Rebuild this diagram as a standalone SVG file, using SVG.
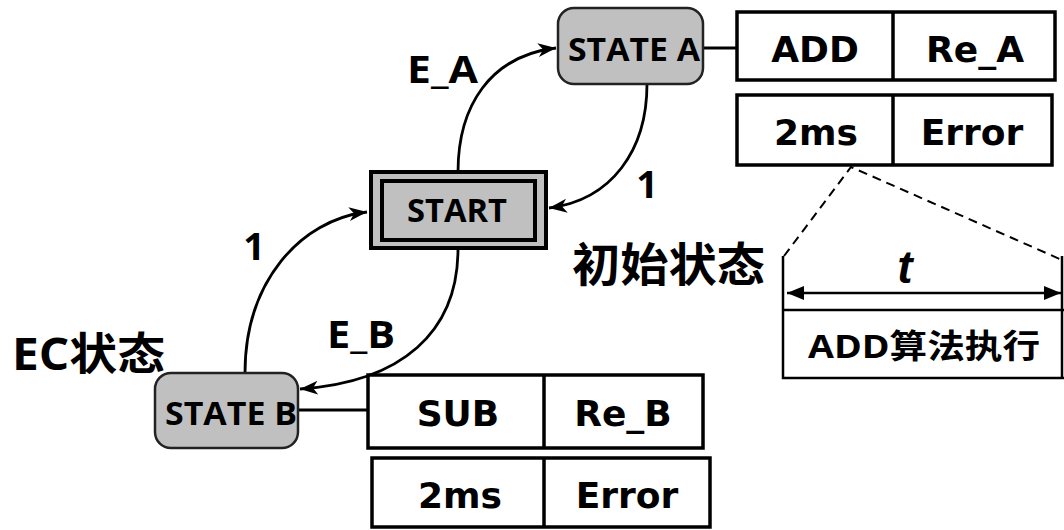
<svg xmlns="http://www.w3.org/2000/svg" width="1064" height="530" viewBox="0 0 1064 530">
  <defs>
    <marker id="arrow" markerUnits="userSpaceOnUse" markerWidth="20" markerHeight="16" refX="18" refY="8" orient="auto">
      <path d="M0,1 L18,8 L0,15 L5,8 Z" fill="#000"/>
    </marker>
    <marker id="dimEnd" markerUnits="userSpaceOnUse" markerWidth="18" markerHeight="14" refX="17" refY="7" orient="auto">
      <path d="M0,0 L17,7 L0,14 Z" fill="#000"/>
    </marker>
    <marker id="dimStart" markerUnits="userSpaceOnUse" markerWidth="18" markerHeight="14" refX="0" refY="7" orient="auto">
      <path d="M17,0 L0,7 L17,14 Z" fill="#000"/>
    </marker>
  </defs>
  <style>
    .state { fill: #c0c0c0; stroke: #222; stroke-width: 2.5; }
    .cell { fill: #fff; stroke: #000; stroke-width: 3.5; }
    .div { stroke: #000; stroke-width: 3.5; }
    .lbl { font-family: "Open Sans", "Liberation Sans", sans-serif; font-weight: bold; fill: #000; }
    .tbl { font-family: "DejaVu Sans", "Liberation Sans", sans-serif; font-weight: bold; font-size: 36px; fill: #000; text-anchor: middle; }
    .cjk { font-family: "Open Sans", "Noto Sans CJK SC", sans-serif; font-weight: bold; fill: #000; }
    .edge { fill: none; stroke: #000; stroke-width: 2.8; }
    .dash { fill: none; stroke: #000; stroke-width: 2; stroke-dasharray: 9 6; }
  </style>
  <rect width="1064" height="530" fill="#fff"/>

  <!-- transitions -->
  <g id="connectors">
    <path class="edge" d="M458,172 C458,106 490,56 556,48" marker-end="url(#arrow)"/>
    <path class="edge" d="M647,84 C647,150 612,200 549,208" marker-end="url(#arrow)"/>
    <path class="edge" d="M245,373 C245,282 300,220 367,212" marker-end="url(#arrow)"/>
    <path class="edge" d="M458,249 C458,332 402,382 300,389" marker-end="url(#arrow)"/>
    <line class="edge" x1="702" y1="48" x2="737" y2="48"/>
    <line class="edge" x1="298" y1="410" x2="370" y2="410"/>
    <path class="dash" d="M784,256 L851,167 L1062,260"/>
  </g>

  <g id="state-a">
    <rect class="state" x="558" y="8" width="145" height="76" rx="16"/>
    <text class="lbl" x="634" y="61" font-size="32" text-anchor="middle" textLength="132" lengthAdjust="spacingAndGlyphs">STATE A</text>
  </g>

  <g id="start">
    <rect x="371" y="172" width="175" height="76" fill="#c0c0c0" stroke="#000" stroke-width="4"/>
    <rect x="382" y="181" width="153" height="59" fill="#c0c0c0" stroke="#000" stroke-width="4"/>
    <text class="lbl" x="457" y="222" font-size="32" text-anchor="middle" textLength="100" lengthAdjust="spacingAndGlyphs">START</text>
  </g>

  <g id="state-b">
    <rect class="state" x="155" y="373" width="143" height="75" rx="16"/>
    <text class="lbl" x="231" y="425" font-size="32" text-anchor="middle" textLength="132" lengthAdjust="spacingAndGlyphs">STATE B</text>
  </g>

  <!-- transition labels -->
  <g id="edge-labels">
    <text class="lbl" x="407" y="83" font-size="38" textLength="71" lengthAdjust="spacingAndGlyphs">E_A</text>
    <text class="lbl" x="647" y="198" font-size="38" text-anchor="middle">1</text>
    <text class="lbl" x="254" y="260" font-size="38" text-anchor="middle">1</text>
    <text class="lbl" x="327" y="348" font-size="38" textLength="68" lengthAdjust="spacingAndGlyphs">E_B</text>
  </g>

  <g id="captions">
    <text class="cjk" x="12" y="370" font-size="44" textLength="153" lengthAdjust="spacingAndGlyphs">EC状态</text>
    <text class="cjk" x="572" y="281" font-size="46" textLength="193" lengthAdjust="spacingAndGlyphs">初始状态</text>
  </g>

  <g id="table-a">
    <rect class="cell" x="737" y="12" width="318" height="68"/>
    <line class="div" x1="893" y1="12" x2="893" y2="80"/>
    <text class="tbl" x="815" y="62">ADD</text>
    <text class="tbl" x="975" y="62">Re_A</text>
    <rect class="cell" x="737" y="95" width="315" height="70"/>
    <line class="div" x1="893" y1="95" x2="893" y2="165"/>
    <text class="tbl" x="816" y="145">2ms</text>
    <text class="tbl" x="972" y="145">Error</text>
  </g>

  <g id="table-b">
    <rect class="cell" x="368" y="375" width="335" height="73"/>
    <line class="div" x1="544" y1="375" x2="544" y2="448"/>
    <text class="tbl" x="458" y="426">SUB</text>
    <text class="tbl" x="623" y="426">Re_B</text>
    <rect class="cell" x="372" y="458" width="338" height="69"/>
    <line class="div" x1="544" y1="458" x2="544" y2="527"/>
    <text class="tbl" x="460" y="508">2ms</text>
    <text class="tbl" x="627" y="508">Error</text>
  </g>

  <g id="timing">
    <path d="M783,256 L783,378 L1064,378 M783,310 L1064,310 M1062,256 L1062,378" fill="none" stroke="#000" stroke-width="2.5"/>
    <line x1="787" y1="293" x2="1061" y2="293" stroke="#000" stroke-width="2.5" marker-start="url(#dimStart)" marker-end="url(#dimEnd)"/>
    <text x="905" y="283" font-family="Liberation Sans, sans-serif" font-weight="bold" font-style="italic" font-size="46" text-anchor="middle">t</text>
    <text class="cjk" x="808" y="358" font-size="33" textLength="232" lengthAdjust="spacingAndGlyphs">ADD算法执行</text>
  </g>
</svg>
